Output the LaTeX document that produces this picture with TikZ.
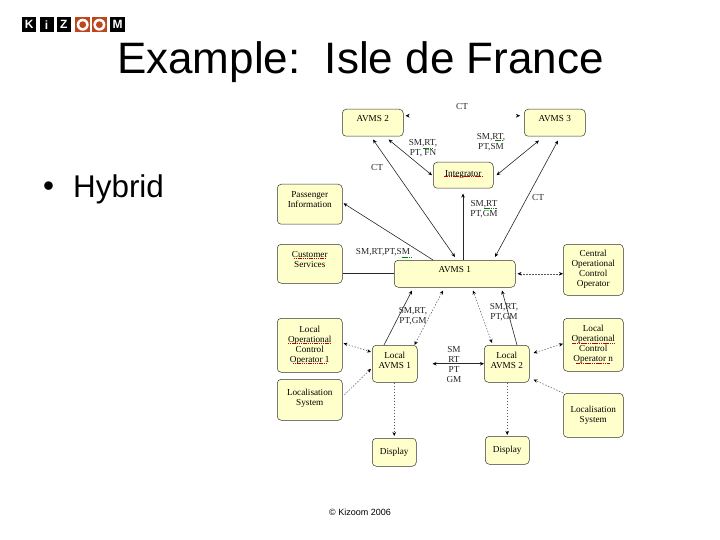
\documentclass[tikz,border=0pt]{standalone}
\usepackage{fontspec}
\setmainfont{Liberation Sans}
\newfontfamily\boxfont{Liberation Serif}
\usetikzlibrary{arrows.meta}
\definecolor{boxfill}{RGB}{255,255,204}
\definecolor{logoorange}{RGB}{190,70,30}
\tikzset{
 x=1pt,y=-1pt,
 abox/.style={draw=black!80,line width=0.5pt,fill=boxfill,rounded corners=4pt,anchor=north west,inner sep=0pt,align=center,font=\boxfont\fontsize{9.2}{10}\selectfont},
 lbl/.style={inner sep=0pt,align=center,font=\boxfont\fontsize{9.2}{10}\selectfont,text=black!85},
 conn/.style={line width=0.6pt,black!85},
 dotconn/.style={line width=0.5pt,black!65,dash pattern=on 1.5pt off 1.5pt},
 onetip/.style={-{Stealth[length=4pt,width=3.5pt,black]}},
 twotips/.style={{Stealth[length=4pt,width=3.5pt,black]}-{Stealth[length=4pt,width=3.5pt,black]}},
 logoblock/.style={anchor=north west,minimum width=14pt,minimum height=15pt,inner sep=0pt,text=white,font=\bfseries\fontsize{12}{12}\selectfont},
 spellred/.style={line width=0.6pt,red!75!black,dash pattern=on 1.5pt off 0.7pt},
 spellgreen/.style={line width=0.6pt,green!50!black,dash pattern=on 1.5pt off 0.7pt},
}
\newcommand{\abx}[6]{\node[abox,minimum width=#4 pt,minimum height=#5 pt] (#1) at (#2,#3) {#6};}
\begin{document}
\begin{tikzpicture}
\useasboundingbox (0,0) rectangle (720,540);
% logo
\node[logoblock,fill=black] (k) at (22,17) {K};
\node[logoblock,fill=black] (i) at (39.3,17) {i};
\node[logoblock,fill=black] (z) at (56.7,17) {Z};
\node[logoblock,fill=logoorange,minimum width=15pt] (o1) at (75,17) {};
\node[logoblock,fill=logoorange,minimum width=15pt] (o2) at (91.7,17) {};
\node[logoblock,fill=black,minimum width=15pt] (m) at (110,17) {M};
\foreach \n in {o1,o2}{\fill[white] (\n) circle (6pt); \fill[logoorange] (\n) circle (3.4pt);}
% text
\node[inner sep=0pt,font=\fontsize{44}{50}\selectfont] (title) at (360.5,62) {Example:\ \ Isle de France};
\node[inner sep=0pt,anchor=west,font=\fontsize{31.4}{36}\selectfont] (bullet) at (43,189) {•};
\node[inner sep=0pt,anchor=west,font=\fontsize{31.4}{36}\selectfont] (hybrid) at (73,189) {Hybrid};
\node[inner sep=0pt,font=\fontsize{9}{11}\selectfont] (copy) at (360,512) {© Kizoom 2006};
% boxes
\abx{avms2}{342}{109}{61}{27}{AVMS 2\\[-2pt]~}
\abx{avms3}{524}{109}{61}{27}{AVMS 3\\[-2pt]~}
\abx{integ}{433}{162}{60}{26}{Integrator\\[-6pt]~}
\abx{pass}{277}{184}{65}{40}{Passenger\\Information\\[-1pt]~}
\abx{cust}{277}{244}{65}{39}{Customer\\Services\\[-2pt]~}
\abx{avms1}{394}{260}{121}{27}{AVMS 1\\[-2pt]~}
\abx{central}{563}{244}{60}{51}{Central\\Operational\\Control\\Operator}
\abx{lop1}{277}{318}{65}{54}{Local\\Operational\\Control\\Operator 1}
\abx{loc1}{277}{379}{65}{41}{~\\[-6pt]Localisation\\System}
\abx{lav1}{372}{345}{45}{37}{Local\\AVMS 1\\[-4pt]~}
\abx{lav2}{484}{345}{45}{37}{Local\\AVMS 2\\[-4pt]~}
\abx{lop2}{563}{318}{60}{53}{Local\\Operational\\Control\\Operator n}
\abx{loc2}{563}{393}{60}{44}{Localisation\\System}
\abx{dis1}{372}{438}{44}{28}{Display}
\abx{dis2}{485}{436}{44}{28}{Display}
% connectors
\draw[line width=0.2pt,white,twotips] ([xshift=2pt,yshift=7pt]avms2.east) -- ([xshift=-4pt,yshift=7pt]avms3.west);
\draw[conn,twotips] ([xshift=61pt,yshift=3pt]avms1.north west) -- ([xshift=31pt,yshift=-3pt]avms2.south west);
\draw[conn,twotips] ([yshift=0pt,xshift=-1pt]integ.west) -- ([xshift=-15pt,yshift=-3pt]avms2.south east);
\draw[conn,twotips] ([xshift=15pt,yshift=-4pt]avms3.south west) -- ([xshift=3pt,yshift=0pt]integ.east);
\draw[conn,twotips] ([xshift=34pt,yshift=-4pt]avms3.south west) -- ([xshift=101pt,yshift=3pt]avms1.north west);
\draw[conn,onetip] ([xshift=69pt]avms1.north west) -- ([xshift=30pt,yshift=-5pt]integ.south west);
\draw[conn,onetip] ([xshift=39pt]avms1.north west) -- ([yshift=1pt,xshift=1pt]pass.east);
\draw[conn] (cust.east |- avms1.west) -- (avms1.west);
\draw[dotconn,twotips] ([xshift=2pt]avms1.east) -- (central.west |- avms1.east);
\draw[conn,onetip] ([xshift=12pt]lav1.north west) -- ([xshift=18pt,yshift=-3pt]avms1.south west);
\draw[dotconn,twotips] ([xshift=-3pt]lav1.north east) -- ([xshift=49pt,yshift=-3pt]avms1.south west);
\draw[dotconn,twotips] ([xshift=8pt,yshift=2pt]lav2.north west) -- ([xshift=79pt,yshift=-3pt]avms1.south west);
\draw[conn,onetip] ([xshift=33pt]lav2.north west) -- ([xshift=108pt,yshift=-3pt]avms1.south west);
\draw[dotconn,twotips] ([xshift=1pt,yshift=2pt]lop1.east) -- ([xshift=-1pt,yshift=-7pt]lav1.north west);
\draw[dotconn,onetip] ([xshift=2pt,yshift=5pt]loc1.east) -- ([xshift=-1pt,yshift=-5pt]lav1.west);
\draw[conn,twotips] ([xshift=15pt]lav1.east) -- (lav2.west);
\draw[dotconn,twotips] ([xshift=4pt,yshift=-8pt]lav2.north east) -- ([yshift=1pt]lop2.west);
\draw[dotconn,onetip] (loc2.north west) -- ([xshift=4pt,yshift=3pt]lav2.south east);
\draw[dotconn,onetip] (lav1.south -| dis1.north) -- ([yshift=2pt]dis1.north);
\draw[dotconn,onetip] (lav2.south -| dis2.north) -- ([yshift=1pt]dis2.north);
% labels
\node[lbl] (l1) at (462,107) {CT};
\node[lbl] (l2) at (423,148) {SM,RT,\\PT, FN};
\node[lbl] (l3) at (491,142) {SM,RT,\\PT,SM};
\node[lbl] (l4) at (377,168) {CT};
\node[lbl] (l5) at (538,197) {CT};
\node[lbl] (l6) at (484,209) {SM,RT\\PT,GM};
\node[lbl] (l7) at (383,252) {SM,RT,PT,SM};
\node[lbl] (l8) at (413,316) {SM,RT,\\PT,GM};
\node[lbl] (l9) at (504,312) {SM,RT,\\PT,GM};
\node[lbl] (l10) at (454,364) {SM\\RT\\PT\\GM};
% spell-check marks
\draw[spellred] ([xshift=-19pt,yshift=-1pt]integ.center) -- ([xshift=19pt,yshift=-1pt]integ.center);
\draw[spellred] ([xshift=-16pt,yshift=5.5pt]cust.center) -- ([xshift=16pt,yshift=5.5pt]cust.center);
\draw[spellred] ([xshift=-22pt,yshift=1.5pt]lop1.center) -- ([xshift=22pt,yshift=1.5pt]lop1.center);
\draw[spellred] ([xshift=-17pt,yshift=-18.5pt]lop1.center) -- ([xshift=17pt,yshift=-18.5pt]lop1.center);
\draw[spellred] ([xshift=-21pt,yshift=1pt]lop2.center) -- ([xshift=21pt,yshift=1pt]lop2.center);
\draw[spellred] ([xshift=-17pt,yshift=-18.5pt]lop2.center) -- ([xshift=17pt,yshift=-18.5pt]lop2.center);
\draw[spellgreen] ([xshift=0pt]l2.center) -- ([xshift=9pt]l2.center);
\draw[spellgreen] ([xshift=4pt,yshift=2pt]l3.center) -- ([xshift=12pt,yshift=2pt]l3.center);
\draw[spellgreen] ([xshift=0pt,yshift=1pt]l6.center) -- ([xshift=13pt,yshift=1pt]l6.center);
\draw[spellgreen] ([xshift=19pt,yshift=-5pt]l7.center) -- ([xshift=29pt,yshift=-5pt]l7.center);
\end{tikzpicture}
\end{document}
